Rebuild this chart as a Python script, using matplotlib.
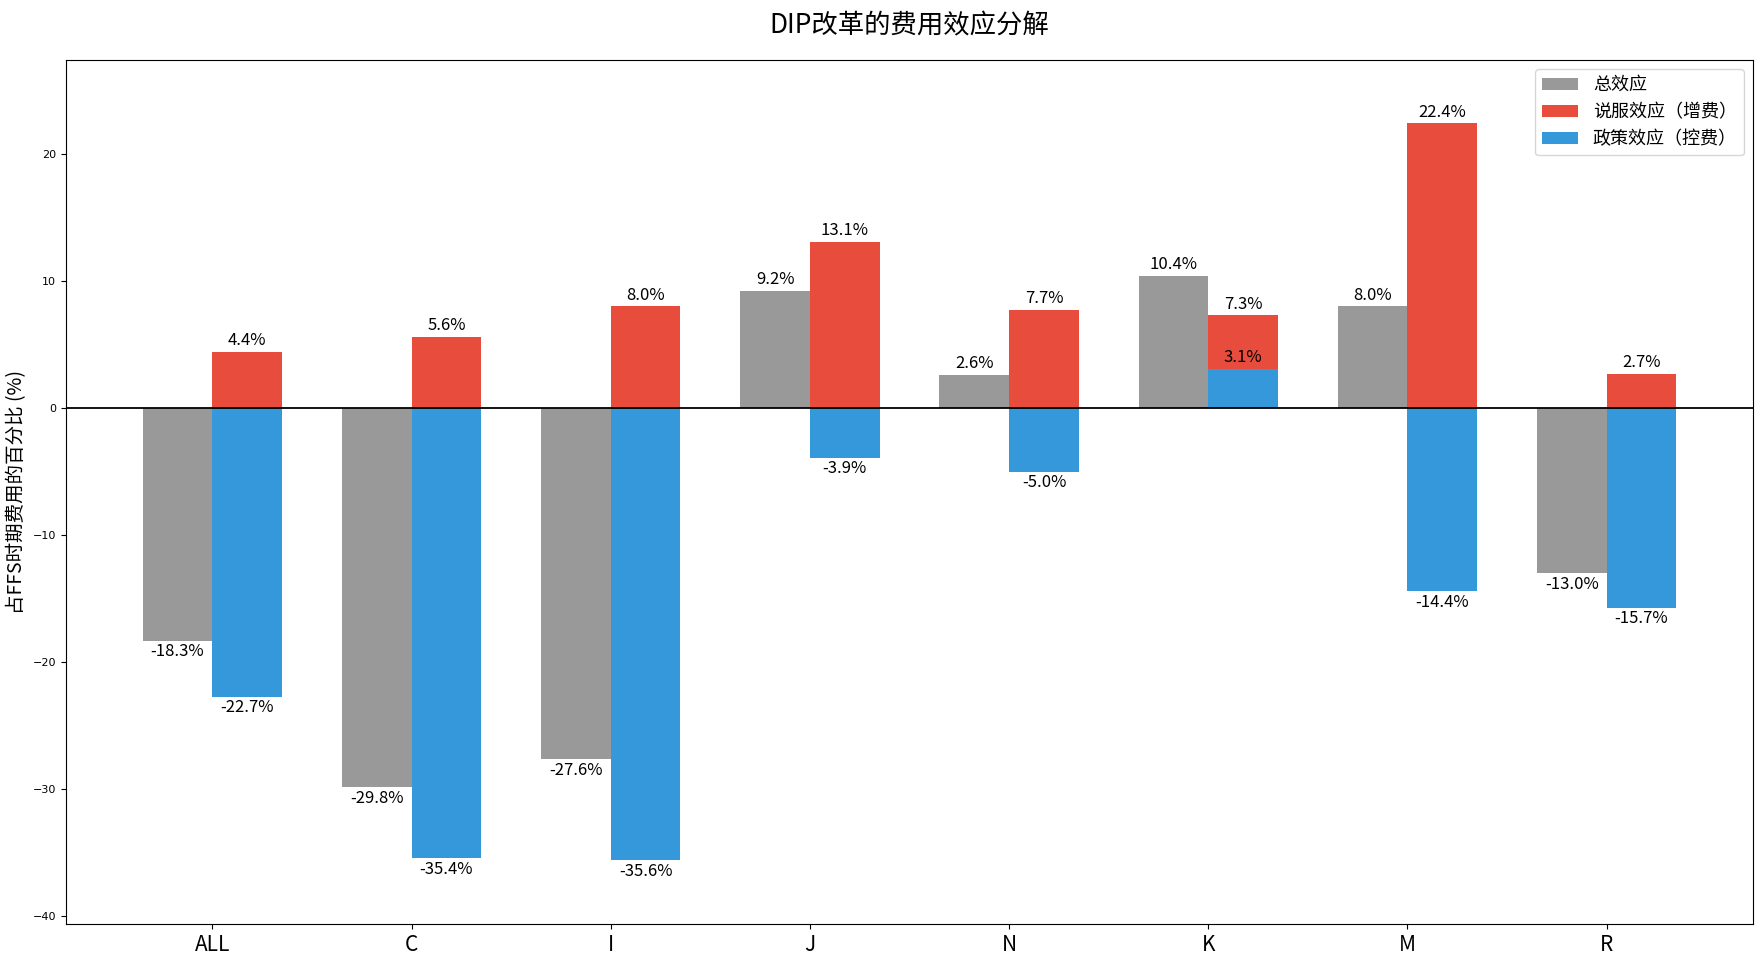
import numpy as np
import matplotlib
matplotlib.use("Agg")
import matplotlib.pyplot as plt

plt.rcParams['font.family'] = ['Noto Sans CJK SC', 'DejaVu Sans']

categories = ["ALL", "C", "I", "J", "N", "K", "M", "R"]
total_effect = [-18.3, -29.8, -27.6, 9.2, 2.6, 10.4, 8.0, -13.0]
persuasion_effect = [4.4, 5.6, 8.0, 13.1, 7.7, 7.3, 22.4, 2.7]
policy_effect = [-22.7, -35.4, -35.6, -3.9, -5.0, 3.1, -14.4, -15.7]

c_gray = "#999999"
c_red = "#e74c3c"
c_blue = "#3498db"

x = np.arange(len(categories))
width = 0.35

fig, ax = plt.subplots(figsize=(17.64, 9.64), dpi=100)

b_total = ax.bar(x - width / 2, total_effect, width, color=c_gray, label="总效应")
b_pers = ax.bar(x + width / 2, persuasion_effect, width, color=c_red, label="说服效应（增费）")
b_pol = ax.bar(x + width / 2, policy_effect, width, color=c_blue, label="政策效应（控费）")


def add_labels(bars):
    for rect in bars:
        h = rect.get_height()
        off = 2 if h >= 0 else -2
        ax.annotate("{:.1f}%".format(h),
                    xy=(rect.get_x() + rect.get_width() / 2, h),
                    xytext=(0, off), textcoords="offset points",
                    ha="center", va="bottom" if h >= 0 else "top",
                    fontsize=12)


add_labels(b_total)
add_labels(b_pers)
add_labels(b_pol)

ax.axhline(0, color="black", linewidth=1.3)
ax.set_xticks(x)
ax.set_xticklabels(categories, fontsize=15)
ax.tick_params(axis="y", labelsize=8)
for lbl in ax.get_yticklabels():
    lbl.set_family("DejaVu Sans")
ax.set_ylabel("占FFS时期费用的百分比 (%)", fontsize=14)
ax.set_ylim(min(policy_effect) - 5, max(persuasion_effect) + 5)
ax.set_title("DIP改革的费用效应分解", fontsize=19, pad=19)
ax.legend(loc="upper right", fontsize=13)

plt.subplots_adjust(left=0.0374, right=0.9938, top=0.9378, bottom=0.0415)
plt.savefig("out.png")
plt.close()
